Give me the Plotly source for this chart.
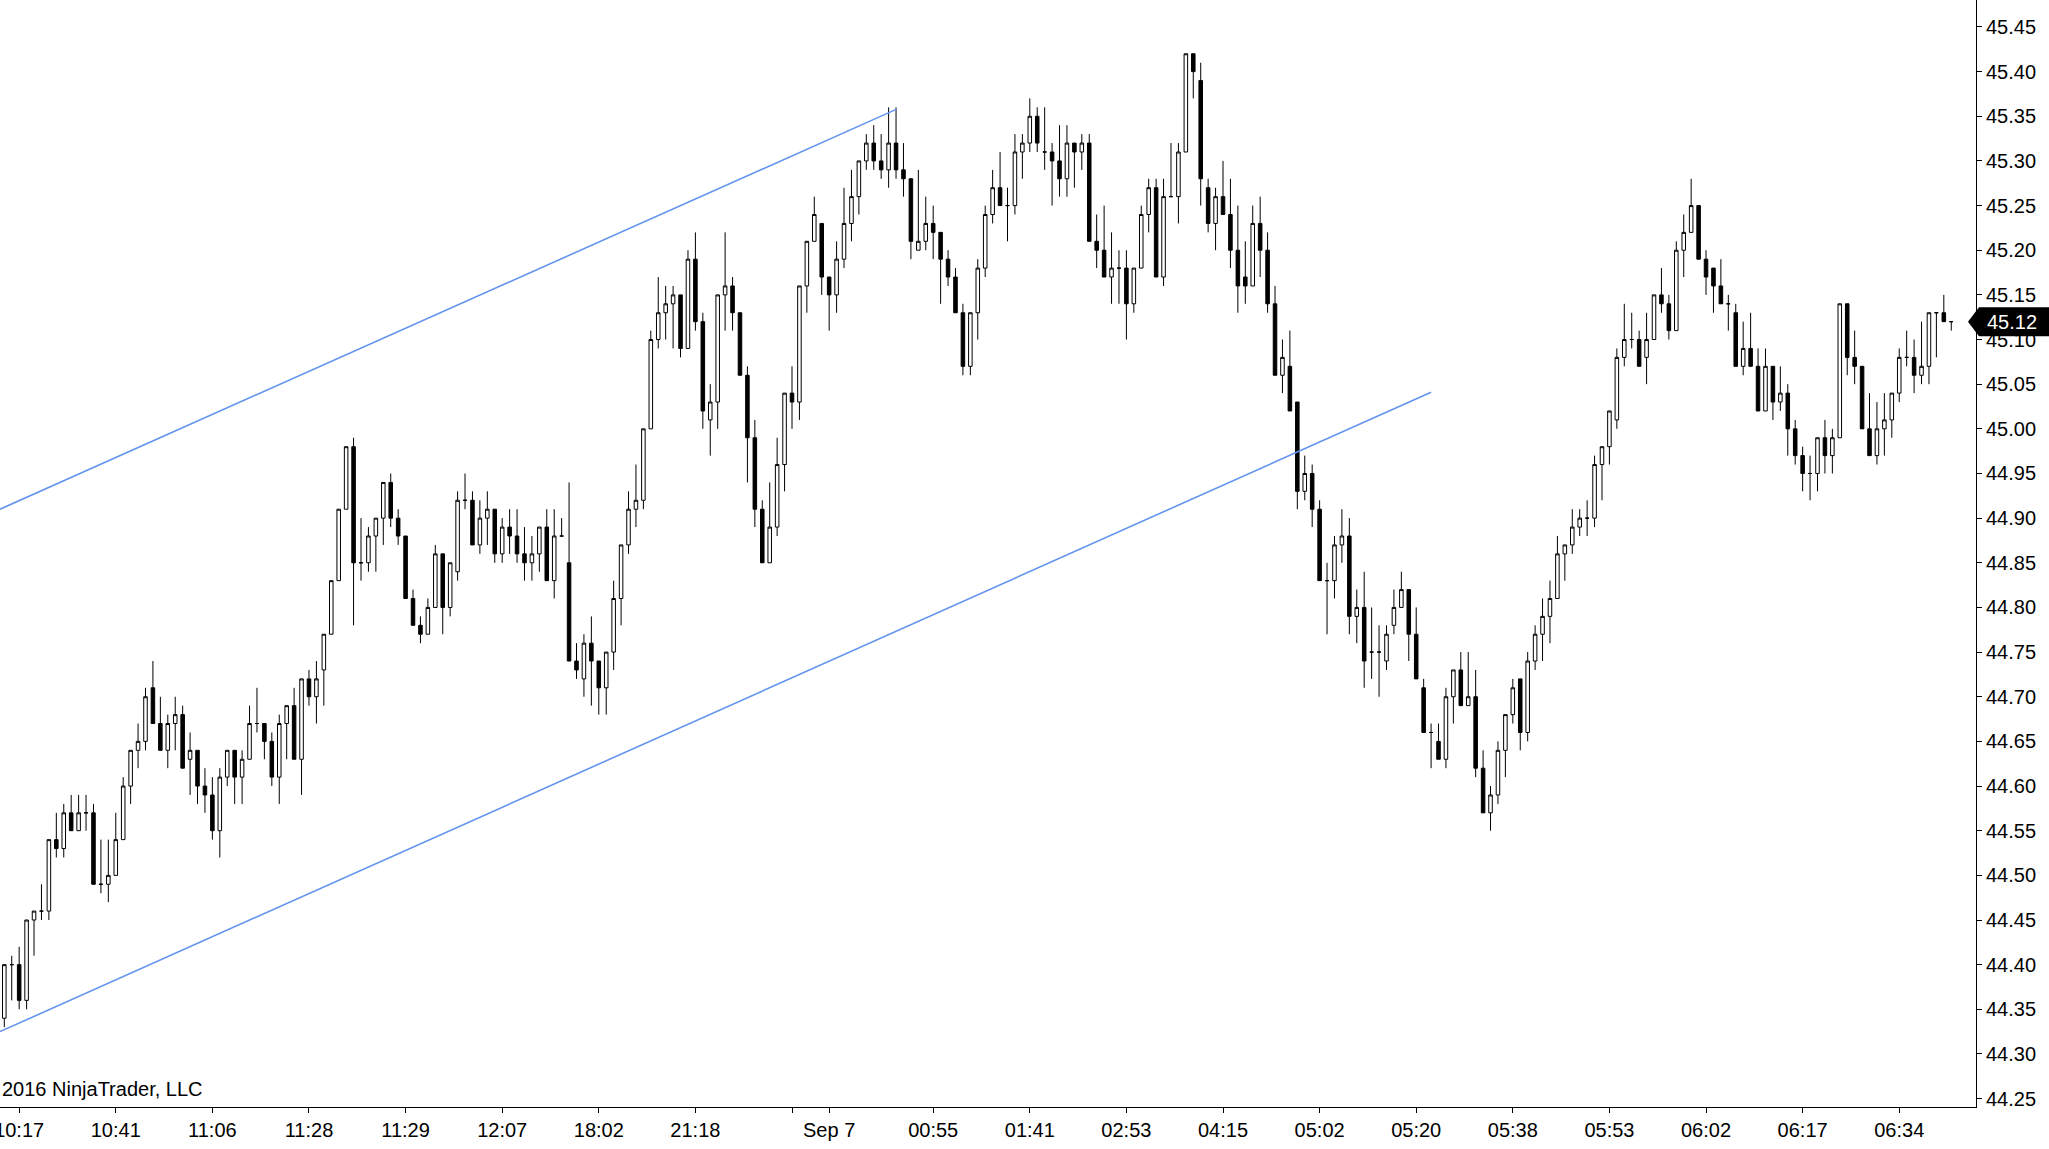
import plotly.graph_objects as go

opens = [44.34,44.40,44.40,44.36,44.45,44.46,44.46,44.54,44.53,44.57,44.55,44.57,44.57,44.49,44.49,44.50,44.54,44.60,44.64,44.65,
44.71,44.67,44.64,44.67,44.68,44.63,44.64,44.60,44.59,44.55,44.61,44.64,44.61,44.63,44.67,44.67,44.65,44.61,44.67,44.69,
44.63,44.72,44.70,44.73,44.77,44.83,44.91,44.98,44.85,44.85,44.88,44.90,44.94,44.90,44.88,44.81,44.78,44.77,44.80,44.86,
44.80,44.84,44.92,44.92,44.87,44.90,44.91,44.86,44.89,44.88,44.86,44.85,44.86,44.89,44.83,44.88,44.85,44.74,44.72,44.76,
44.74,44.71,44.75,44.81,44.87,44.91,44.92,45.00,45.10,45.13,45.14,45.15,45.09,45.19,45.12,45.01,45.03,45.15,45.16,45.13,
45.06,44.99,44.91,44.85,44.89,44.96,45.04,45.03,45.16,45.21,45.23,45.17,45.15,45.19,45.23,45.26,45.30,45.32,45.30,45.29,
45.32,45.29,45.28,45.20,45.21,45.23,45.22,45.19,45.17,45.13,45.07,45.13,45.18,45.24,45.27,45.25,45.25,45.31,45.32,45.35,
45.31,45.31,45.30,45.28,45.32,45.31,45.32,45.21,45.20,45.17,45.18,45.18,45.14,45.18,45.24,45.27,45.17,45.26,45.26,45.31,
45.42,45.39,45.27,45.23,45.26,45.24,45.20,45.17,45.16,45.23,45.20,45.14,45.06,45.07,45.03,44.93,44.95,44.91,44.83,44.83,
44.87,44.88,44.79,44.80,44.75,44.75,44.74,44.78,44.80,44.82,44.77,44.71,44.66,44.65,44.63,44.70,44.73,44.69,44.70,44.62,
44.57,44.59,44.64,44.68,44.72,44.66,44.74,44.77,44.79,44.81,44.86,44.87,44.89,44.90,44.90,44.96,44.98,45.01,45.08,45.10,
45.10,45.08,45.10,45.15,45.14,45.11,45.20,45.22,45.25,45.19,45.18,45.16,45.14,45.13,45.07,45.09,45.07,45.02,45.07,45.03,
45.04,45.00,44.97,44.95,44.95,44.99,44.97,44.99,45.14,45.08,45.07,45.00,44.97,45.00,45.01,45.04,45.08,45.08,45.06,45.07,
45.13,45.13,45.12]
highs = [44.40,44.41,44.42,44.45,44.46,44.49,44.54,44.57,44.58,44.59,44.59,44.59,44.58,44.54,44.54,44.57,44.61,44.64,44.67,44.71,
44.74,44.70,44.68,44.70,44.69,44.66,44.64,44.62,44.61,44.62,44.64,44.64,44.64,44.69,44.71,44.67,44.66,44.68,44.69,44.71,
44.72,44.73,44.74,44.77,44.83,44.91,44.98,44.99,44.90,44.89,44.90,44.94,44.95,44.91,44.88,44.82,44.79,44.81,44.87,44.86,
44.85,44.93,44.95,44.93,44.92,44.93,44.91,44.90,44.91,44.91,44.89,44.88,44.89,44.91,44.91,44.90,44.94,44.76,44.77,44.79,
44.74,44.75,44.83,44.87,44.93,44.96,45.00,45.11,45.17,45.16,45.16,45.15,45.20,45.22,45.13,45.05,45.15,45.22,45.17,45.13,
45.07,45.01,44.92,44.94,44.99,45.04,45.07,45.16,45.21,45.26,45.23,45.17,45.21,45.27,45.29,45.30,45.33,45.34,45.33,45.36,
45.36,45.32,45.28,45.29,45.26,45.25,45.22,45.20,45.18,45.14,45.13,45.19,45.25,45.29,45.31,45.27,45.33,45.33,45.37,45.36,
45.36,45.32,45.34,45.34,45.32,45.33,45.33,45.24,45.25,45.22,45.20,45.20,45.18,45.25,45.28,45.28,45.28,45.32,45.32,45.42,
45.42,45.41,45.28,45.27,45.30,45.28,45.25,45.21,45.25,45.26,45.22,45.16,45.10,45.11,45.03,44.97,44.96,44.92,44.85,44.88,
44.91,44.90,44.82,44.84,44.80,44.78,44.78,44.82,44.84,44.82,44.80,44.72,44.67,44.67,44.71,44.73,44.75,44.75,44.73,44.64,
44.60,44.65,44.68,44.72,44.72,44.75,44.78,44.81,44.83,44.88,44.87,44.91,44.91,44.92,44.97,44.98,45.02,45.09,45.14,45.13,
45.11,45.13,45.15,45.18,45.15,45.21,45.24,45.28,45.25,45.20,45.18,45.19,45.15,45.14,45.12,45.13,45.09,45.09,45.07,45.07,
45.05,45.01,44.98,44.97,44.99,45.01,45.00,45.14,45.14,45.11,45.07,45.04,45.03,45.04,45.04,45.09,45.11,45.10,45.12,45.13,
45.13,45.15,45.12]
lows = [44.33,44.36,44.35,44.35,44.41,44.45,44.45,44.52,44.52,44.55,44.55,44.55,44.49,44.48,44.47,44.50,44.54,44.58,44.62,44.64,
44.67,44.64,44.62,44.64,44.62,44.59,44.58,44.57,44.54,44.52,44.60,44.58,44.58,44.63,44.66,44.63,44.60,44.58,44.63,44.63,
44.59,44.69,44.67,44.69,44.77,44.83,44.91,44.78,44.83,44.84,44.84,44.87,44.89,44.87,44.81,44.78,44.76,44.77,44.80,44.77,
44.79,44.83,44.91,44.87,44.86,44.87,44.85,44.85,44.86,44.85,44.83,44.83,44.84,44.83,44.81,44.88,44.74,44.72,44.70,44.69,
44.68,44.68,44.73,44.78,44.86,44.89,44.91,45.00,45.09,45.10,45.09,45.08,45.09,45.11,45.00,44.97,45.00,45.11,45.11,45.06,
44.94,44.89,44.85,44.85,44.88,44.93,45.00,45.01,45.13,45.21,45.15,45.11,45.13,45.18,45.21,45.24,45.29,45.29,45.28,45.27,
45.28,45.26,45.19,45.20,45.20,45.19,45.14,45.16,45.13,45.06,45.06,45.10,45.17,45.23,45.25,45.21,45.24,45.28,45.31,45.31,
45.29,45.25,45.26,45.26,45.27,45.29,45.21,45.18,45.17,45.14,45.14,45.10,45.13,45.18,45.22,45.17,45.16,45.26,45.23,45.31,
45.37,45.25,45.22,45.20,45.24,45.18,45.13,45.14,45.16,45.17,45.13,45.06,45.04,45.02,44.91,44.92,44.89,44.83,44.77,44.81,
44.85,44.77,44.76,44.71,44.72,44.70,44.73,44.77,44.80,44.74,44.72,44.66,44.62,44.63,44.62,44.67,44.69,44.69,44.61,44.57,
44.55,44.58,44.61,44.67,44.64,44.65,44.73,44.74,44.76,44.81,44.83,44.86,44.88,44.88,44.89,44.92,44.96,45.00,45.07,45.09,
45.07,45.05,45.10,45.13,45.10,45.11,45.17,45.22,45.19,45.15,45.13,45.14,45.11,45.07,45.06,45.07,45.02,45.02,45.01,45.02,
44.97,44.96,44.93,44.92,44.93,44.95,44.95,44.99,45.06,45.05,45.00,44.97,44.96,44.97,44.99,45.03,45.07,45.04,45.05,45.05,
45.08,45.12,45.11]
closes = [44.40,44.40,44.36,44.45,44.46,44.46,44.54,44.53,44.57,44.55,44.57,44.57,44.49,44.49,44.50,44.54,44.60,44.64,44.65,44.70,
44.67,44.64,44.67,44.68,44.62,44.64,44.60,44.59,44.55,44.61,44.64,44.61,44.63,44.67,44.67,44.65,44.61,44.67,44.69,44.63,
44.72,44.70,44.72,44.77,44.83,44.91,44.98,44.85,44.85,44.88,44.90,44.94,44.90,44.88,44.81,44.78,44.77,44.80,44.86,44.80,
44.85,44.92,44.92,44.87,44.90,44.91,44.86,44.89,44.88,44.86,44.85,44.86,44.89,44.83,44.88,44.88,44.74,44.73,44.76,44.74,
44.71,44.75,44.81,44.87,44.91,44.92,45.00,45.10,45.13,45.14,45.15,45.09,45.19,45.12,45.02,45.03,45.15,45.16,45.13,45.06,
44.99,44.91,44.85,44.89,44.96,45.04,45.03,45.16,45.21,45.24,45.17,45.15,45.19,45.23,45.26,45.30,45.32,45.30,45.29,45.32,
45.29,45.28,45.21,45.21,45.23,45.22,45.19,45.17,45.13,45.07,45.13,45.18,45.24,45.27,45.25,45.25,45.31,45.32,45.35,45.32,
45.31,45.30,45.28,45.32,45.31,45.32,45.21,45.20,45.17,45.18,45.18,45.14,45.18,45.24,45.27,45.17,45.26,45.26,45.31,45.42,
45.40,45.28,45.23,45.26,45.24,45.20,45.16,45.16,45.23,45.20,45.14,45.06,45.08,45.02,44.93,44.95,44.91,44.83,44.83,44.87,
44.88,44.79,44.80,44.74,44.75,44.75,44.77,44.80,44.82,44.77,44.72,44.66,44.66,44.63,44.70,44.73,44.69,44.70,44.62,44.57,
44.59,44.64,44.68,44.71,44.66,44.74,44.77,44.79,44.81,44.86,44.87,44.89,44.90,44.90,44.96,44.98,45.02,45.08,45.10,45.10,
45.07,45.10,45.15,45.14,45.11,45.20,45.22,45.25,45.19,45.17,45.16,45.14,45.14,45.07,45.09,45.07,45.02,45.07,45.03,45.04,
45.00,44.97,44.95,44.95,44.99,44.97,44.99,45.14,45.08,45.07,45.00,44.97,45.00,45.01,45.04,45.08,45.08,45.06,45.07,45.13,
45.13,45.12,45.12]

bar_index = list(range(len(closes)))

tick_positions = [2, 15, 28, 41, 54, 67, 80, 93, 106, 111, 125, 138, 151, 164, 177, 190, 203, 216, 229, 242, 255]
tick_labels = ["10:17", "10:41", "11:06", "11:28", "11:29", "12:07", "18:02", "21:18", "", "Sep 7",
               "00:55", "01:41", "02:53", "04:15", "05:02", "05:20", "05:38", "05:53", "06:02", "06:17", "06:34"]

price_ticks = [round(44.25 + 0.05 * k, 2) for k in range(25)]

upper_line_x = [-0.58, 120.1]
upper_line_y = [44.910, 45.358]
lower_line_x = [-0.58, 192.0]
lower_line_y = [44.325, 45.041]

copyright_text = "2016 NinjaTrader, LLC"

FONT = "Liberation Sans, Arial, sans-serif"
W, H = 2049, 1149
ML, MR, MT, MB = 0, 73, 0, 42
plot_w = W - ML - MR
plot_h = H - MT - MB

x_range = [-0.579, 265.33]
y_range = [44.2406, 45.4802]

fig = go.Figure()

fig.add_trace(go.Candlestick(
    x=bar_index, open=opens, high=highs, low=lows, close=closes,
    increasing=dict(line=dict(color="black", width=1), fillcolor="white"),
    decreasing=dict(line=dict(color="black", width=1), fillcolor="black"),
    whiskerwidth=0, hoverinfo="skip", showlegend=False,
))

for lx, ly in [(upper_line_x, upper_line_y), (lower_line_x, lower_line_y)]:
    fig.add_trace(go.Scatter(x=lx, y=ly, mode="lines",
                             line=dict(color="#6495ED", width=1.6),
                             hoverinfo="skip", showlegend=False))

last_close = closes[-1]
py = (last_close - y_range[0]) / (y_range[1] - y_range[0])
hh = 14.5 / plot_h
tip = 1968 / plot_w
sh = 1979 / plot_w
rt = W / plot_w
fig.add_shape(type="path", xref="paper", yref="paper", layer="above",
              path=f"M {tip},{py} L {sh},{py+hh} L {rt},{py+hh} L {rt},{py-hh} L {sh},{py-hh} Z",
              fillcolor="black", line=dict(color="black", width=0))
fig.add_annotation(xref="paper", yref="paper", x=1985 / plot_w, y=py, xanchor="left", yanchor="middle",
                   text=f"{last_close:.2f}", showarrow=False,
                   font=dict(family=FONT, size=20, color="white"))

fig.add_annotation(xref="paper", yref="paper", x=0, y=(plot_h - (1089 - MT)) / plot_h,
                   xanchor="left", yanchor="middle", text=copyright_text, showarrow=False,
                   font=dict(family=FONT, size=20, color="black"))

fig.update_layout(
    width=W, height=H,
    margin=dict(l=ML, r=MR, t=MT, b=MB, pad=0, autoexpand=False),
    paper_bgcolor="white", plot_bgcolor="white",
    showlegend=False, boxgap=0.32,
    font=dict(family=FONT, size=20, color="black"),
    xaxis=dict(range=x_range, rangeslider=dict(visible=False), showgrid=False, zeroline=False,
               automargin=False,
               tickmode="array", tickvals=tick_positions, ticktext=tick_labels,
               ticks="outside", ticklen=5, tickcolor="black", tickwidth=1,
               showline=True, linecolor="black", linewidth=1, ticklabeloverflow="allow",
               tickfont=dict(family=FONT, size=20, color="black")),
    yaxis=dict(range=y_range, side="right", showgrid=False, zeroline=False,
               automargin=False,
               tickmode="array", tickvals=price_ticks, ticktext=[f"{v:.2f}" for v in price_ticks],
               ticks="outside", ticklen=5, tickcolor="black", tickwidth=1,
               showline=True, linecolor="black", linewidth=1, ticklabeloverflow="allow",
               tickfont=dict(family=FONT, size=20, color="black")),
)

fig.write_html("out.html", config={"displayModeBar": False},
               post_script="document.body.style.margin='0';document.body.style.overflow='hidden';")
